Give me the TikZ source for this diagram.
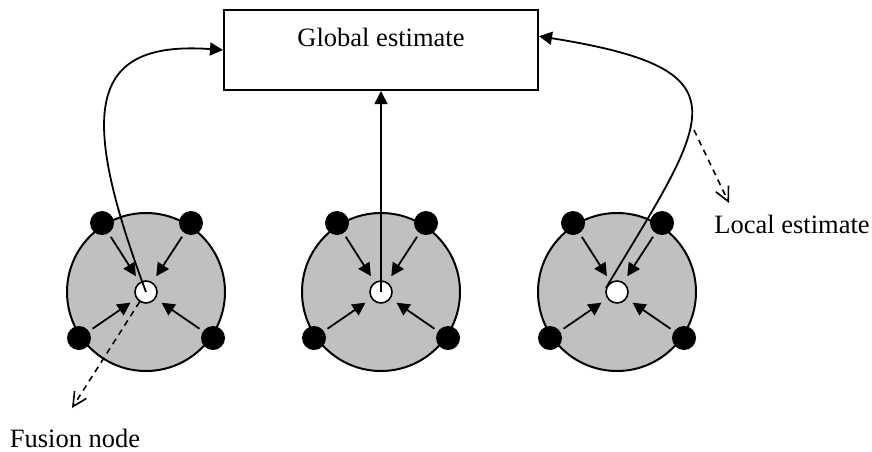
\documentclass[tikz,border=0pt]{standalone}
\usepackage{fontspec}
\setmainfont{Liberation Serif}
\usetikzlibrary{positioning, arrows.meta}

\definecolor{grisregion}{RGB}{192,192,192}
\tikzset{
	region/.style={circle, draw, line width=1pt, fill=grisregion, minimum size=79pt, inner sep=0pt},
	sensor/.style={circle, fill=black, minimum size=12pt, inner sep=0pt},
	fusion/.style={circle, draw, line width=0.8pt, fill=white, minimum size=11pt, inner sep=0pt},
	flecha/.style={line width=0.9pt, -{Triangle[length=6.5pt,width=6.5pt]}},
	discont/.style={line width=0.8pt, dash pattern=on 3pt off 2.5pt, -{Straight Barb[length=7pt,width=7pt]}}
}

\begin{document}
\begin{tikzpicture}[x=0.5pt, y=-0.5pt, font=\fontsize{13.25}{16}\selectfont]
	\useasboundingbox (0,0) rectangle (872,451);

	% Estimación global
	\node[draw, line width=1pt, minimum width=157pt, minimum height=40pt, text depth=13pt, inner sep=0pt] (global) at (381,50) {Global estimate};

	% Regiones con sensores y nodo de fusión
	\foreach \i/\cx in {1/146, 2/381, 3/617} {
		\node[region] (reg\i) at (\cx,292) {};
		\node[sensor] (sen\i a) at (\cx-44,223) {};
		\node[sensor] (sen\i b) at (\cx+45,223) {};
		\node[sensor] (sen\i c) at (\cx-67,338) {};
		\node[sensor] (sen\i d) at (\cx+67,338) {};
		\node[fusion] (fus\i) at (\cx,292) {};
		\foreach \s in {a,b,c,d}
			\draw[flecha, shorten <=2pt, shorten >=3.5pt] (sen\i\s) -- (fus\i);
	}

	% Estimaciones locales hacia la global
	\draw[flecha] (fus1.center) .. controls (80,115) and (85,40) .. (global.west);
	\draw[flecha] (fus2.center) -- (global.south);
	\draw[flecha] (fus3.160) .. controls (710,115) and (750,70) .. (global.5);

	% Etiquetas
	\node[anchor=base] (local) at (792,233) {Local estimate};
	\node[anchor=base] (fusionlbl) at (75,447) {Fusion node};
	\coordinate (locini) at (694,130);
	\coordinate (locfin) at (729,203);
	\coordinate (fusfin) at (72,408);
	\draw[discont] (locini) -- (locfin);
	\draw[discont] (fus1.237) -- (fusfin);

\end{tikzpicture}
\end{document}
